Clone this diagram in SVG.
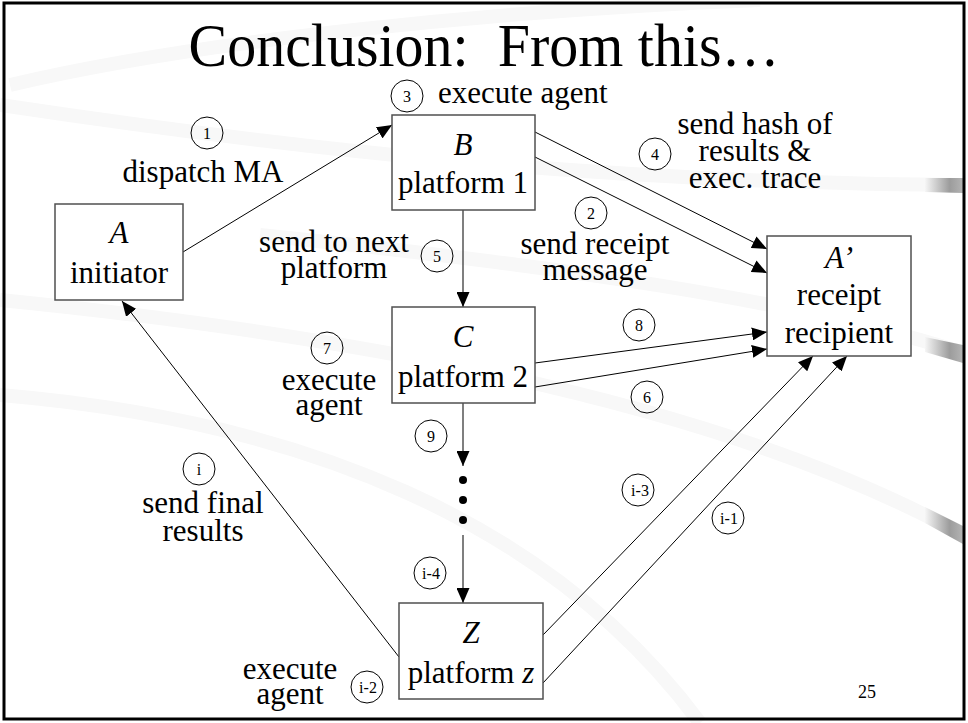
<svg xmlns="http://www.w3.org/2000/svg" width="968" height="723" viewBox="0 0 968 723">
  <style>
    text { font-family: "Liberation Serif", "Times New Roman", Times, "DejaVu Serif", serif; }
    .t { font-size: 31px; text-anchor: middle; fill: #000; }
    .s { text-anchor: start; }
    .it { font-style: italic; }
    .num { font-size: 16px; text-anchor: middle; fill: #000; }
    .box { fill: #fff; stroke: #505050; stroke-width: 1.5; }
    .badge { fill: none; stroke: #000; stroke-width: 1; }
    .edge { fill: none; stroke: #000; stroke-width: 1; marker-end: url(#head); }
    .edgev { fill: none; stroke: #555; stroke-width: 1.5; marker-end: url(#head); }
    .band { fill: none; stroke: #f8f8f8; stroke-width: 14; }
  </style>
  <defs>
    <marker id="head" viewBox="0 0 15 13" refX="15" refY="6.5" markerWidth="15" markerHeight="13" markerUnits="userSpaceOnUse" orient="auto">
      <path d="M0,0 L15,6.5 L0,13 z" fill="#000"/>
    </marker>
    <linearGradient id="tab" x1="925" y1="0" x2="963" y2="0" gradientUnits="userSpaceOnUse">
      <stop offset="0" stop-color="#f6f6f6"/>
      <stop offset="0.65" stop-color="#9c9c9c"/>
      <stop offset="1" stop-color="#b4b4b4"/>
    </linearGradient>
  </defs>

  <!-- slide background -->
  <rect x="0" y="0" width="968" height="723" fill="#fff"/>
  <g id="backdrop">
    <path class="band" d="M 10 85 C 200 40, 500 10, 760 0"/>
    <path class="band" d="M 0 105 C 300 150, 600 183, 963 185"/>
    <path class="band" d="M 260 235 C 550 265, 800 300, 963 353"/>
    <path class="band" d="M 0 300 C 300 330, 700 390, 963 535"/>
    <path class="band" d="M 0 395 C 300 420, 550 520, 700 723"/>
    <polygon points="925,178 963,178 963,193 925,192" fill="url(#tab)"/>
    <polygon points="925,337 963,345 963,363 925,352" fill="url(#tab)"/>
    <polygon points="925,507 963,526 963,544 925,523" fill="url(#tab)"/>
  </g>
  <rect x="4" y="3" width="960" height="716" fill="none" stroke="#000" stroke-width="3"/>

  <text class="t" x="484" y="66" style="font-size:62px" textLength="591" lengthAdjust="spacingAndGlyphs" xml:space="preserve">Conclusion:  From this…</text>

  <!-- connectors -->
  <g id="connectors">
    <line class="edge" x1="183" y1="252" x2="392" y2="125"/>
    <line class="edge" x1="535" y1="132" x2="767" y2="249"/>
    <line class="edge" x1="535" y1="157" x2="767" y2="273"/>
    <line class="edgev" x1="463" y1="210" x2="463" y2="307"/>
    <line class="edge" x1="535" y1="363" x2="767" y2="332"/>
    <line class="edge" x1="535" y1="387" x2="767" y2="349"/>
    <line class="edgev" x1="463" y1="403" x2="463" y2="466"/>
    <line class="edgev" x1="463" y1="535" x2="463" y2="603"/>
    <line class="edge" x1="543" y1="635" x2="813" y2="356"/>
    <line class="edge" x1="543" y1="683" x2="847" y2="356"/>
    <line class="edge" x1="399" y1="657" x2="122" y2="301"/>
    <circle cx="463" cy="480" r="4" fill="#000"/>
    <circle cx="463" cy="500" r="4" fill="#000"/>
    <circle cx="463" cy="520" r="4" fill="#000"/>
  </g>

  <!-- nodes -->
  <g id="node-A">
    <rect class="box" x="55" y="204" width="128" height="96"/>
    <text class="t it" x="119" y="243">A</text>
    <text class="t" x="119" y="283">initiator</text>
  </g>
  <g id="node-B">
    <rect class="box" x="392" y="115" width="143" height="95"/>
    <text class="t it" x="463" y="155">B</text>
    <text class="t" x="463" y="193">platform 1</text>
  </g>
  <g id="node-C">
    <rect class="box" x="392" y="307" width="143" height="96"/>
    <text class="t it" x="463" y="347">C</text>
    <text class="t" x="463" y="387">platform 2</text>
  </g>
  <g id="node-Z">
    <rect class="box" x="399" y="603" width="144" height="96"/>
    <text class="t it" x="471" y="643">Z</text>
    <text class="t" x="471" y="683">platform <tspan class="it">z</tspan></text>
  </g>
  <g id="node-Aprime">
    <rect class="box" x="767" y="236" width="144" height="120"/>
    <text class="t it" x="839" y="268">A’</text>
    <text class="t" x="839" y="305">receipt</text>
    <text class="t" x="839" y="343">recipient</text>
  </g>

  <!-- step badges and labels -->
  <g id="step-1">
    <circle class="badge" cx="207" cy="133" r="16"/>
    <text class="num" x="207" y="139">1</text>
    <text class="t" x="203" y="182">dispatch MA</text>
  </g>
  <g id="step-2">
    <circle class="badge" cx="591" cy="213" r="16"/>
    <text class="num" x="591" y="219">2</text>
    <text class="t" x="595" y="254">send receipt</text>
    <text class="t" x="595" y="280">message</text>
  </g>
  <g id="step-3">
    <circle class="badge" cx="407" cy="96" r="16"/>
    <text class="num" x="407" y="102">3</text>
    <text class="t s" x="438" y="103">execute agent</text>
  </g>
  <g id="step-4">
    <circle class="badge" cx="655" cy="154" r="16"/>
    <text class="num" x="655" y="160">4</text>
    <text class="t" x="755" y="134">send hash of</text>
    <text class="t" x="755" y="161">results &amp;</text>
    <text class="t" x="755" y="188">exec. trace</text>
  </g>
  <g id="step-5">
    <circle class="badge" cx="437" cy="256" r="16"/>
    <text class="num" x="437" y="262">5</text>
    <text class="t" x="334" y="252">send to next</text>
    <text class="t" x="334" y="278">platform</text>
  </g>
  <g id="step-6">
    <circle class="badge" cx="647" cy="397" r="16"/>
    <text class="num" x="647" y="403">6</text>
  </g>
  <g id="step-7">
    <circle class="badge" cx="327" cy="348" r="16"/>
    <text class="num" x="327" y="354">7</text>
    <text class="t" x="329" y="390">execute</text>
    <text class="t" x="329" y="415">agent</text>
  </g>
  <g id="step-8">
    <circle class="badge" cx="639" cy="325" r="16"/>
    <text class="num" x="639" y="331">8</text>
  </g>
  <g id="step-9">
    <circle class="badge" cx="431" cy="436" r="16"/>
    <text class="num" x="431" y="442">9</text>
  </g>
  <g id="step-i4">
    <circle class="badge" cx="430" cy="573" r="16"/>
    <text class="num" x="431" y="579">i-4</text>
  </g>
  <g id="step-i3">
    <circle class="badge" cx="638" cy="490" r="16"/>
    <text class="num" x="640" y="496">i-3</text>
  </g>
  <g id="step-i2">
    <circle class="badge" cx="367" cy="687" r="16"/>
    <text class="num" x="368" y="693">i-2</text>
    <text class="t" x="290" y="679">execute</text>
    <text class="t" x="290" y="704">agent</text>
  </g>
  <g id="step-i1">
    <circle class="badge" cx="728" cy="518" r="16"/>
    <text class="num" x="729" y="524">i-1</text>
  </g>
  <g id="step-i">
    <circle class="badge" cx="199" cy="469" r="16"/>
    <text class="num" x="199" y="475">i</text>
    <text class="t" x="203" y="513">send final</text>
    <text class="t" x="203" y="541">results</text>
  </g>

  <text class="num s" x="867" y="698" style="font-size:18px">25</text>
</svg>
